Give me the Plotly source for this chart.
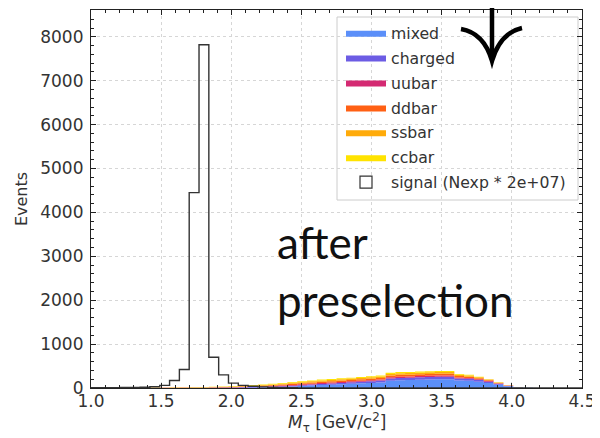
import numpy as np
import plotly.graph_objects as go

# ---- data ----
bin_lo, bin_w, n_bins = 1.0, 0.07, 50
edges = bin_lo + bin_w * np.arange(n_bins + 1)

mixed =   [0,0,0,0,0,0,0,0,0,0, 0,0,0,1,2,4,8,12,18,25, 36,45,55,66,76,86,96,106,114,126, 165,175,180,190,195,200,200,170,165,145, 115,75,38,12,3,0,0,0,0,0]
charged = [0,0,0,0,0,0,0,1,1,2, 3,4,6,8,10,12,13,14,15,16, 18,20,23,26,28,30,33,36,38,42, 52,55,56,56,58,58,58,48,44,38, 30,20,10,4,1,0,0,0,0,0]
uubar =   [1,1,1,1,2,2,2,3,3,3, 4,4,5,5,6,7,9,11,13,15, 17,18,19,20,21,22,22,23,24,25, 28,29,28,28,28,28,28,22,20,16, 12,8,4,1,0,0,0,0,0,0]
ddbar =   [1,1,2,2,2,3,3,3,4,4, 5,5,6,7,8,10,12,15,18,21, 24,26,28,30,31,32,33,34,35,36, 40,41,40,40,40,41,40,32,29,24, 18,11,5,2,0,0,0,0,0,0]
ssbar =   [1,1,1,2,2,2,3,3,3,4, 4,5,6,7,8,10,12,14,17,20, 22,24,26,27,28,29,30,31,32,33, 36,37,36,36,36,37,36,29,26,21, 16,10,4,1,0,0,0,0,0,0]
ccbar =   [2,2,2,3,3,3,4,4,5,5, 6,7,8,9,10,11,13,15,17,19, 20,21,22,22,22,22,22,23,23,24, 27,27,26,26,26,26,26,20,18,15, 11,7,3,1,0,0,0,0,0,0]
signal =  [5,5,8,10,12,18,30,60,170,420, 4450,7820,700,300,110,60,40,25,15,8, 5,3,2,1,0,0,0,0,0,0, 0,0,0,0,0,0,0,0,0,0, 0,0,0,0,0,0,0,0,0,0]

backgrounds = [
    ("mixed", mixed, "#5b8ff9"),
    ("charged", charged, "#6c5ce4"),
    ("uubar", uubar, "#d42a72"),
    ("ddbar", ddbar, "#ff6014"),
    ("ssbar", ssbar, "#ffab0a"),
    ("ccbar", ccbar, "#ffe300"),
]
signal_name = "signal (Nexp * 2e+07)"
x_ticks = [1.0, 1.5, 2.0, 2.5, 3.0, 3.5, 4.0, 4.5]
y_ticks = [0, 1000, 2000, 3000, 4000, 5000, 6000, 7000, 8000]

# ---- geometry (window pixels) ----
W, H = 600, 438
OFF = 8                      # default page body margin
L, R, T, B = 91, 18, 10, 50  # plot area edges in window pixels
pw, ph = W - L - R, H - T - B
def px2paper(px, py):
    return (px - L) / pw, (H - B - py) / ph

fig = go.Figure()

for name, vals, col in backgrounds:
    yv = list(vals) + [vals[-1]]
    fig.add_trace(go.Scatter(
        x=edges, y=yv, name=name, mode="lines", line=dict(width=0, shape="hv"),
        stackgroup="bkg", fillcolor=col, legendgroup=name, hoverinfo="skip"))

sv = list(signal) + [signal[-1]]
fig.add_trace(go.Scatter(
    x=edges, y=sv, mode="lines", line=dict(color="#333333", width=1.4, shape="hv"),
    showlegend=False, legendgroup="signal", hoverinfo="skip"))
fig.add_trace(go.Bar(
    x=[None], y=[None], name=signal_name, legendgroup="signal",
    marker=dict(color="white", line=dict(color="#333333", width=1.2))))

axis_common = dict(
    showline=True, linecolor="#222222", linewidth=1.2, mirror="allticks",
    ticks="inside", ticklen=5, tickwidth=1, tickcolor="#222222",
    showgrid=True, gridcolor="#d6d6d6", griddash="dot", gridwidth=0.8,
    zeroline=False, automargin=False,
    tickfont=dict(family="DejaVu Sans", size=17, color="#333333"),
)
fig.update_xaxes(
    range=[1.0, 4.5], tickvals=x_ticks, ticktext=[f"{v:.1f}" for v in x_ticks],
    minor=dict(ticks="inside", ticklen=3, dtick=0.1, tickcolor="#222222", showgrid=False),
    ticklabelstandoff=-3,
    **axis_common)
fig.update_yaxes(
    range=[0, 8610], tickvals=y_ticks,
    minor=dict(ticks="inside", ticklen=3, dtick=200, tickcolor="#222222", showgrid=False),
    title=dict(text="Events", font=dict(family="DejaVu Sans", size=16, color="#333333"), standoff=8),
    ticklabelstandoff=3,
    **axis_common)

# x-axis title
xt, yt = px2paper(336, 422)
fig.add_annotation(text="<i>M</i><sub>τ</sub> [GeV/c<sup>2</sup>]", x=0.5, y=yt,
                   xref="paper", yref="paper", xanchor="center", yanchor="middle",
                   showarrow=False, font=dict(family="DejaVu Sans", size=17, color="#333333"))

# legend frame (semi-transparent, drawn under the legend entries)
x0, y0 = px2paper(337, 200)
x1, y1 = px2paper(578, 17)
fig.add_shape(type="rect", x0=x0, y0=y0, x1=x1, y1=y1, xref="paper", yref="paper",
              fillcolor="rgba(255,255,255,0.8)", line=dict(color="#cccccc", width=1),
              layer="between")

# annotation text
for txt, base_y in [("after", 260), ("preselection", 318)]:
    xp, yp = px2paper(275, base_y)
    fig.add_annotation(text=txt, x=xp, y=yp, xref="paper", yref="paper",
                       xanchor="left", yanchor="bottom", showarrow=False,
                       yshift=-10,
                       font=dict(family="Lato", size=44, color="#111111"))

# hand-drawn arrow
def pt(px, py):
    a, b = px2paper(px, py)
    return f"{a:.5f},{b:.5f}"
arrow_path = (f"M{pt(492,-2)} L{pt(492,61)} "
              f"M{pt(461,29)} Q{pt(484,33)} {pt(492,61)} "
              f"Q{pt(500,33)} {pt(522,28)}")
fig.add_shape(type="path", path=arrow_path, xref="paper", yref="paper",
              line=dict(color="black", width=4.5), layer="above")

lx, ly = px2paper(341, 16)
fig.update_layout(
    width=W - OFF, height=H - OFF,
    margin=dict(l=L - OFF, r=R, t=T - OFF, b=B),
    plot_bgcolor="white", paper_bgcolor="white",
    barmode="overlay",
    showlegend=True,
    legend=dict(x=lx, xanchor="left", y=ly, yanchor="top",
                bgcolor="rgba(0,0,0,0)", borderwidth=0,
                font=dict(family="DejaVu Sans", size=15.7, color="#333333"),
                tracegroupgap=1.5, traceorder="grouped", itemwidth=40),
)

fig.write_html("out.html")
